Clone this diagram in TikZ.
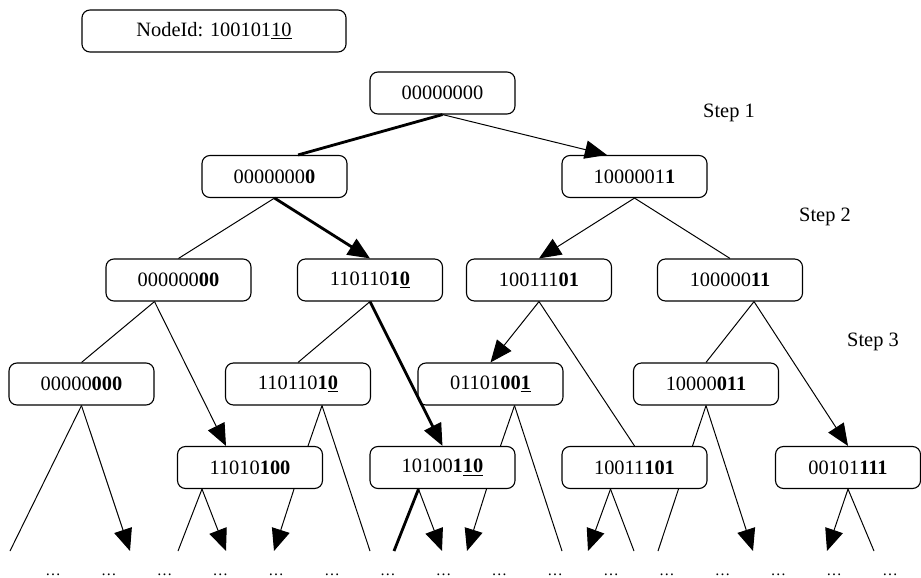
\documentclass[tikz,border=0pt]{standalone}
\usepackage{fontspec}
\setmainfont{Liberation Serif}
\usetikzlibrary{arrows.meta}

\begin{document}
\begin{tikzpicture}[x=0.025cm,y=-0.025cm,
    idbox/.style={draw,line width=0.8pt,rounded corners=2mm,minimum width=3.625cm,minimum height=1.05cm,inner sep=0,font=\fontsize{14.5}{16}\selectfont},
    link/.style={line width=0.7pt},
    hot/.style={line width=2pt},
    tip/.style={-{Triangle[length=5.5mm,width=4.6mm]}},
    steplabel/.style={font=\fontsize{14.5}{16}\selectfont}]
    \useasboundingbox (0,0) rectangle (921,578);
    % the node id and the tree
    \node[idbox,minimum width=6.6cm] (nid) at (214,31) {NodeId: 100101\underline{10}};
    \node[idbox] (r) at (442.5,93) {00000000};
    \node[idbox] (l1a) at (274.5,176.5) {0000000\textbf{0}};
    \node[idbox] (l1b) at (634.5,176.5) {1000001\textbf{1}};
    \node[idbox] (l2a) at (178.5,280) {000000\textbf{00}};
    \node[idbox] (l2b) at (370,280) {110110\textbf{1}\underline{\textbf{0}}};
    \node[idbox] (l2c) at (539,280) {100111\textbf{01}};
    \node[idbox] (l2d) at (730,280) {100000\textbf{11}};
    \node[idbox] (l3a) at (81.5,384) {00000\textbf{000}};
    \node[idbox] (l3b) at (298,384) {110110\textbf{1}\underline{\textbf{0}}};
    \node[idbox] (l3c) at (490.5,384) {01101\textbf{00}\underline{\textbf{1}}};
    \node[idbox] (l3d) at (706,384) {10000\textbf{011}};
    \node[idbox] (l4a) at (250,467.5) {11010\textbf{100}};
    \node[idbox] (l4b) at (442.5,467.5) {10100\textbf{1}\underline{\textbf{10}}};
    \node[idbox] (l4c) at (634.5,467.5) {10011\textbf{101}};
    \node[idbox] (l4d) at (848,467.5) {00101\textbf{111}};
    \node[steplabel] (s1) at (729,113) {Step 1};
    \node[steplabel] (s2) at (825,217) {Step 2};
    \node[steplabel] (s3) at (873,342) {Step 3};
    % free ends at the bottom
    \foreach \x [count=\i] in {10,130,178,226,274,370,394,442,467,562,588,634,658,753,827,874}
        \coordinate (e\i) at (\x,551);
    \foreach \i in {0,...,15}
        \node[font=\fontsize{11}{12}\selectfont,anchor=base,inner sep=0] (d\i) at (53+55.8*\i,575) {\dots};
    % step 1 and 2
    \draw[hot] (r.south) -- ([xshift=0.59cm]l1a.north);
    \draw[link,tip] (r.south) -- ([xshift=-0.69cm]l1b.north);
    \draw[link] (l1a.south) -- (l2a.north);
    \draw[hot,tip] (l1a.south) -- (l2b.north);
    \draw[link,tip] (l1b.south) -- (l2c.north);
    \draw[link] (l1b.south) -- (l2d.north);
    % step 3
    \draw[link] ([xshift=-0.6cm]l2a.south) -- (l3a.north);
    \draw[link,tip] ([xshift=-0.6cm]l2a.south) -- ([xshift=-0.6cm]l4a.north);
    \draw[link] (l2b.south) -- (l3b.north);
    \draw[hot,tip] (l2b.south) -- (l4b.north);
    \draw[link,tip] (l2c.south) -- (l3c.north);
    \draw[link] (l2c.south) -- (l4c.north);
    \draw[link] ([xshift=0.6cm]l2d.south) -- (l3d.north);
    \draw[link,tip] ([xshift=0.6cm]l2d.south) -- (l4d.north);
    % further down
    \draw[link] (l3a.south) -- (e1);
    \draw[link,tip] (l3a.south) -- (e2);
    \draw[link] ([xshift=0.6cm]l3b.south) -- ([xshift=1.45cm]l4a.north);
    \draw[link] ([xshift=0.6cm]l3b.south) -- (e6);
    \draw[link] ([xshift=0.6cm]l3c.south) -- ([xshift=1.45cm]l4b.north);
    \draw[link] ([xshift=0.6cm]l3c.south) -- (e10);
    \draw[link] (l3d.south) -- ([xshift=1.45cm]l4c.north);
    \draw[link,tip] (l3d.south) -- (e14);
    \draw[link] ([xshift=-1.2cm]l4a.south) -- (e3);
    \draw[link,tip] ([xshift=-1.2cm]l4a.south) -- (e4);
    \draw[link,tip] ([xshift=1.1cm]l4a.south) -- (e5);
    \draw[hot] ([xshift=-0.6cm]l4b.south) -- (e7);
    \draw[link,tip] ([xshift=-0.6cm]l4b.south) -- (e8);
    \draw[link,tip] ([xshift=1.1cm]l4b.south) -- (e9);
    \draw[link,tip] ([xshift=-0.6cm]l4c.south) -- (e11);
    \draw[link] ([xshift=-0.6cm]l4c.south) -- (e12);
    \draw[link] ([xshift=1.1cm]l4c.south) -- (e13);
    \draw[link,tip] (l4d.south) -- (e15);
    \draw[link] (l4d.south) -- (e16);
\end{tikzpicture}
\end{document}
